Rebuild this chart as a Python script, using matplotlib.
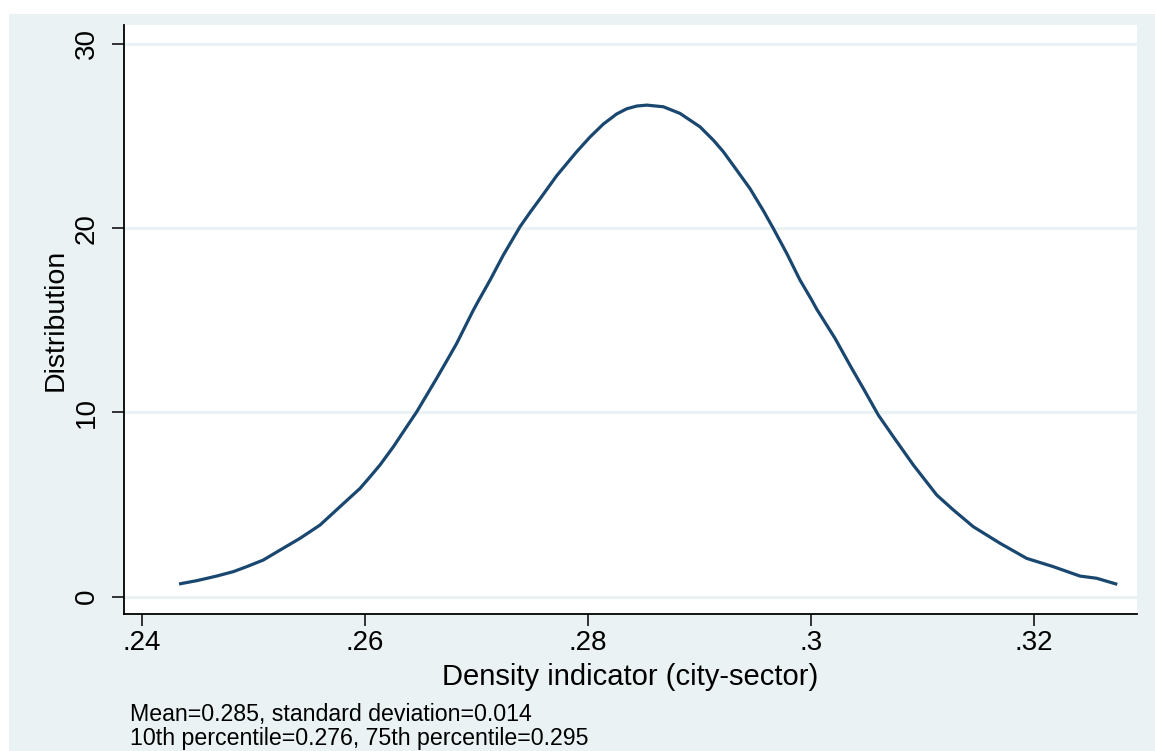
import numpy as np
import matplotlib
matplotlib.use("Agg")
import matplotlib.pyplot as plt
from matplotlib.patches import Rectangle

# density curve
density_x = [0.24332, 0.24491, 0.24670, 0.24819, 0.24939, 0.25088, 0.25238,
             0.25418, 0.25597, 0.25777, 0.25956, 0.26046, 0.26135, 0.26255,
             0.26375, 0.26465, 0.26644, 0.26764, 0.26824, 0.26973, 0.27018,
             0.27123, 0.27242, 0.27392, 0.27481, 0.27572, 0.27721, 0.27900,
             0.28020, 0.28139, 0.28259, 0.28349, 0.28439, 0.28529, 0.28678,
             0.28827, 0.29007, 0.29126, 0.29216, 0.29336, 0.29455, 0.29575,
             0.29664, 0.29785, 0.29904, 0.30009, 0.30054, 0.30218, 0.30368,
             0.30472, 0.30607, 0.30741, 0.30921, 0.31131, 0.31280, 0.31459,
             0.31699, 0.31938, 0.32177, 0.32416, 0.32566, 0.32751]
density_y = [0.68, 0.86, 1.11, 1.35, 1.62, 1.98, 2.52,
             3.16, 3.88, 4.88, 5.87, 6.50, 7.14, 8.13,
             9.22, 10.03, 11.85, 13.11, 13.75, 15.55, 16.05,
             17.18, 18.54, 20.08, 20.85, 21.60, 22.85, 24.15,
             24.95, 25.65, 26.20, 26.48, 26.63, 26.68, 26.59,
             26.23, 25.50, 24.78, 24.15, 23.15, 22.15, 20.95,
             19.99, 18.63, 17.18, 16.10, 15.60, 14.02, 12.39,
             11.30, 9.85, 8.68, 7.14, 5.51, 4.70, 3.79,
             2.89, 2.07, 1.62, 1.11, 0.99, 0.66]

x_ticks = [0.24, 0.26, 0.28, 0.30, 0.32]
x_ticklabels = [".24", ".26", ".28", ".3", ".32"]
y_ticks = [0, 10, 20, 30]

note_lines = ["Mean=0.285, standard deviation=0.014",
              "10th percentile=0.276, 75th percentile=0.295"]

BG = "#EAF2F3"
NAVY = "#1A476F"
W, H = 1155, 751

plt.rcParams["font.family"] = ["Liberation Sans", "DejaVu Sans"]

fig = plt.figure(figsize=(W / 100, H / 100), dpi=100)
fig.patch.set_facecolor("white")
# stata style graph region
fig.patches.append(Rectangle((9 / W, 0), 1 - 9 / W, 1 - 14 / H,
                             transform=fig.transFigure, facecolor=BG,
                             edgecolor="none", zorder=-5))

ax = fig.add_axes([124 / W, 1 - 614 / H, (1137 - 124) / W, (614 - 25) / H])
ax.set_zorder(2)
ax.set_facecolor("white")

ax.plot(density_x, density_y, color=NAVY, lw=2.3, solid_capstyle="butt",
        solid_joinstyle="round")

ax.set_xlim(0.23838, 0.32928)
ax.set_ylim(-0.95, 31.03)
ax.set_xticks(x_ticks)
ax.set_xticklabels(x_ticklabels)
ax.set_yticks(y_ticks)
ax.grid(axis="y", color=BG, lw=2.2)
ax.set_axisbelow(True)

for s in ["top", "right"]:
    ax.spines[s].set_visible(False)
for s in ["left", "bottom"]:
    ax.spines[s].set_linewidth(1.3)

ax.tick_params(axis="both", length=8.5, width=1.1, labelsize=20, colors="black")
ax.tick_params(axis="x", pad=3)
ax.tick_params(axis="y", pad=9, labelrotation=90)
for lab in ax.get_yticklabels():
    lab.set_va("center")

fig.text(56 / W, 1 - 320 / H, "Distribution", rotation=90, ha="center",
         va="center", fontsize=20.5)
fig.text(630 / W, 1 - 685 / H, "Density indicator (city-sector)", ha="center",
         va="baseline", fontsize=21)
fig.text(130 / W, 1 - 721 / H, note_lines[0], ha="left", va="baseline", fontsize=16.7)
fig.text(130 / W, 1 - 745 / H, note_lines[1], ha="left", va="baseline", fontsize=16.7)

fig.savefig("out.png", dpi=100, facecolor=fig.get_facecolor())
